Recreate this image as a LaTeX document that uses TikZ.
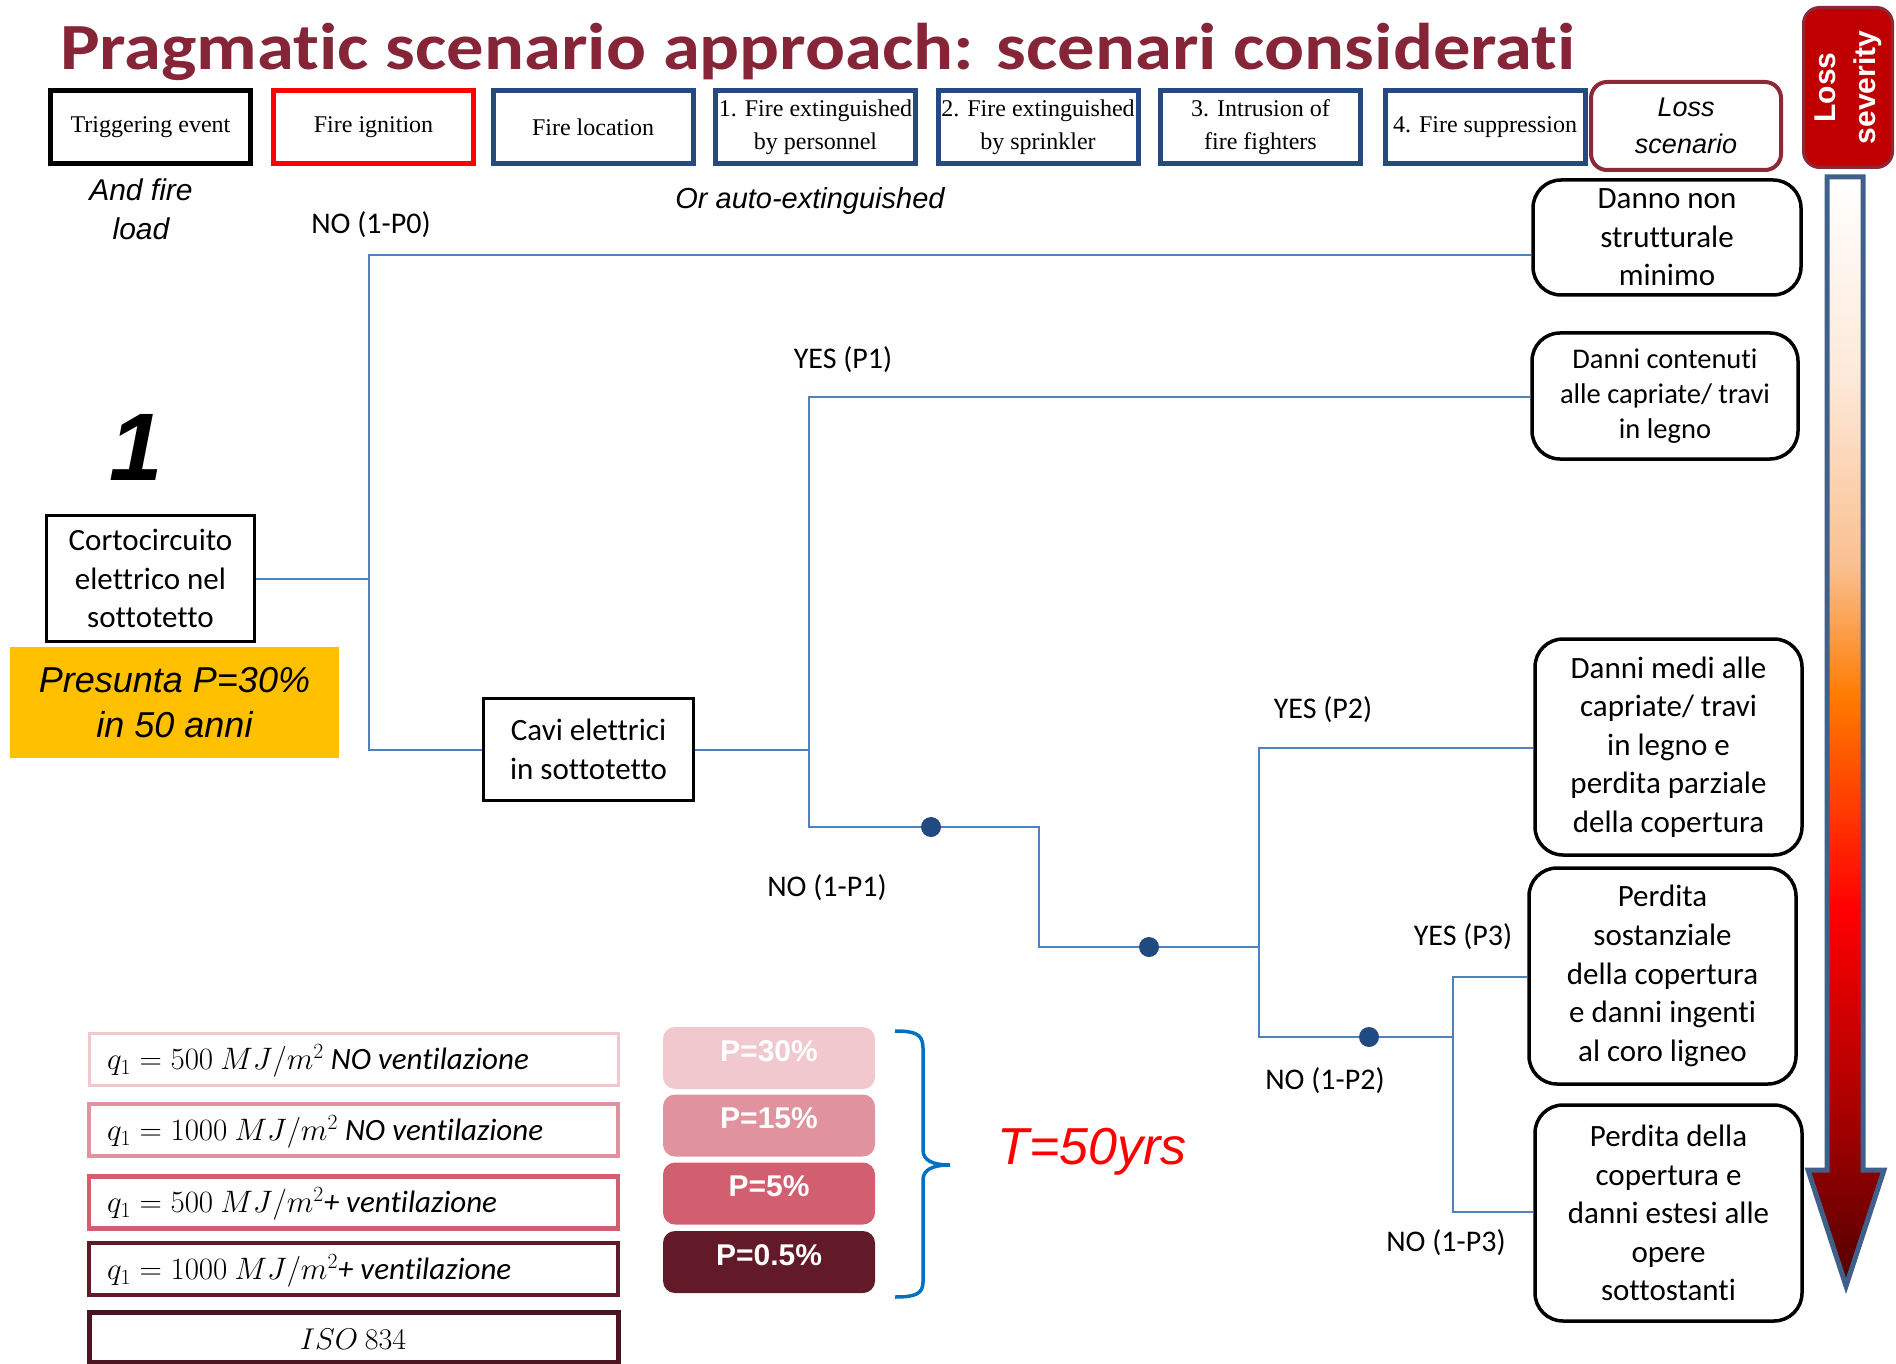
\RequirePackage{fix-cm}
\documentclass[tikz,border=0pt]{standalone}
\usepackage{fontspec}
\setmainfont{Carlito}[Ligatures={NoCommon,NoContextual}]
\newfontfamily\arialf{Liberation Sans}
\newfontfamily\tnrf{Liberation Serif}
\newfontfamily\titlef{Carlito}[Ligatures={NoCommon,NoContextual}]
\definecolor{titlered}{RGB}{134,36,56}
\definecolor{hdrblue}{RGB}{37,74,128}
\definecolor{lnblue}{RGB}{79,129,189}
\definecolor{dotblue}{RGB}{33,74,128}
\definecolor{lossred}{RGB}{192,0,0}
\definecolor{lossbrd}{RGB}{140,40,55}
\definecolor{arrbrd}{RGB}{64,96,140}
\definecolor{yel}{RGB}{255,192,0}
\definecolor{pk1}{RGB}{240,200,206}
\definecolor{pk2}{RGB}{224,147,158}
\definecolor{pk3}{RGB}{210,95,112}
\definecolor{pk4}{RGB}{98,26,40}
\definecolor{pk5}{RGB}{74,21,32}
\definecolor{bracebl}{RGB}{0,112,192}
\definecolor{peach}{RGB}{250,192,144}
\definecolor{peachl}{RGB}{253,233,217}
\definecolor{orng}{RGB}{255,122,0}
\definecolor{dred}{RGB}{160,0,0}
\definecolor{vdred}{RGB}{80,0,0}
\pgfdeclareverticalshading{sevshade}{100bp}{color(0bp)=(vdred); color(25bp)=(vdred); color(32bp)=(dred); color(42bp)=(red); color(51.5bp)=(orng); color(57.5bp)=(peach); color(66bp)=(peachl); color(75bp)=(white); color(100bp)=(white)}
\tikzset{
  hdr/.style={draw=hdrblue, line width=5pt, minimum width=200pt, minimum height=73pt, inner sep=0pt, align=center, font=\tnrf\fontsize{24}{33}\selectfont},
  outc/.style={draw=black, line width=3.5pt, rounded corners=28pt, inner sep=0pt, align=center, font=\fontsize{31}{38.6}\selectfont},
  sqbox/.style={draw=black, line width=2.5pt, inner sep=0pt, align=center, font=\fontsize{31}{38.5}\selectfont},
  conn/.style={draw=lnblue, line width=2pt},
  lbl/.style={font=\fontsize{30}{36}\selectfont, inner sep=0pt},
  jdot/.style={circle, fill=dotblue, minimum size=20pt, inner sep=0pt},
  legbox/.style={minimum width=529pt, minimum height=52pt, inner sep=0pt, line width=4.5pt},
  legtxt/.style={anchor=west, inner sep=0pt, font=\fontsize{31}{34}\selectfont},
  pbox/.style={minimum width=212pt, minimum height=62pt, rounded corners=12pt, inner sep=0pt, text=white, text height=22pt, text depth=16pt, font=\arialf\bfseries\fontsize{30}{34}\selectfont}
}
\begin{document}
\begin{tikzpicture}[x=1pt,y=-1pt]
\useasboundingbox (0,0) rectangle (1896,1364);
% title
\node[anchor=base west, inner sep=0pt, text=titlered, font=\titlef\bfseries\fontsize{66}{70}\selectfont] (title) at (60,70) {\scalebox{1.13}[1]{Pragmatic scenario approach: scenari considerati}};
% header row
\node[hdr, draw=black] (h0) at (150.5,127) {Triggering event};
\node[hdr, draw=red, line width=4.5pt] (h1) at (373.5,127) {Fire ignition};
\node[hdr] (h2) at (593,127) {Fire location};
\node[hdr] (h3) at (815.5,127) {1. Fire extinguished\\by personnel};
\node[hdr] (h4) at (1038,127) {2. Fire extinguished\\by sprinkler};
\node[hdr] (h5) at (1260.5,127) {3. Intrusion of\\fire fighters};
\node[hdr] (h6) at (1485,127) {4. Fire suppression};
\node[draw=lossbrd, line width=4pt, rounded corners=16pt, minimum width=190pt, minimum height=88pt, inner sep=0pt, align=center, font=\arialf\itshape\fontsize{27}{37}\selectfont] (ls) at (1686,126) {Loss\\scenario};
\node[draw=lossbrd, fill=lossred, line width=3pt, rounded corners=16pt, minimum width=89pt, minimum height=160pt, inner sep=0pt] (sev) at (1848,87.5) {};
\node[rotate=90, text=white, align=center, inner sep=0pt, font=\arialf\bfseries\fontsize{30}{40}\selectfont] (sevt) at (1848,87.5) {Loss\\severity};
% severity arrow
\path[shading=sevshade, draw=arrbrd, line width=5pt, line join=miter]
  (1827,177) -- (1863,177) -- (1863,1170) -- (1884,1170) -- (1846,1286) -- (1808,1170) -- (1827,1170) -- cycle;
% side texts
\node[align=center, inner sep=0pt, font=\arialf\itshape\fontsize{30}{39}\selectfont] (afl) at (141,209) {And fire\\load};
\node[inner sep=0pt, font=\arialf\itshape\fontsize{29}{34}\selectfont] (oae) at (810,201) {Or auto-extinguished};
\node[inner sep=0pt, font=\arialf\itshape\bfseries\fontsize{96}{100}\selectfont] (one) at (136,447) {1};
% tree nodes
\node[sqbox, minimum width=208pt, minimum height=126pt] (cc) at (150.5,578.5) {Cortocircuito\\elettrico nel\\sottotetto};
\node[fill=yel, minimum width=329pt, minimum height=111pt, inner sep=0pt, align=center, font=\arialf\itshape\fontsize{36}{45}\selectfont] (pres) at (174.5,702.5) {Presunta P=30\%\\in 50 anni};
\node[sqbox, minimum width=210pt, minimum height=102pt] (cavi) at (588.5,749.5) {Cavi elettrici\\in sottotetto};
% outcome boxes
\node[outc, minimum width=268pt, minimum height=115pt] (o1) at (1667,237.5) {Danno non\\strutturale\\minimo};
\node[outc, minimum width=266pt, minimum height=126pt, font=\fontsize{28.5}{35}\selectfont] (o2) at (1665,396) {Danni contenuti\\alle capriate/ travi\\in legno};
\node[outc, minimum width=267pt, minimum height=216pt] (o3) at (1668.5,747) {Danni medi alle\\capriate/ travi\\in legno e\\perdita parziale\\della copertura};
\node[outc, minimum width=267pt, minimum height=216pt] (o4) at (1662.5,976) {Perdita\\sostanziale\\della copertura\\e danni ingenti\\al coro ligneo};
\node[outc, minimum width=267pt, minimum height=216pt] (o5) at (1668.5,1213) {Perdita della\\copertura e\\danni estesi alle\\opere\\sottostanti};
% junction coordinates
\coordinate (a0) at (369,578.5);
\coordinate (a1) at (369,255);
\coordinate (a2) at (369,750);
\coordinate (b0) at (809,750);
\coordinate (b1) at (809,397);
\coordinate (b2) at (809,827);
\coordinate (c0) at (1039,827);
\coordinate (c1) at (1039,947);
\coordinate (d0) at (1259,947);
\coordinate (d1) at (1259,748);
\coordinate (d2) at (1259,1037);
\coordinate (e0) at (1453,1037);
\coordinate (e1) at (1453,977);
\coordinate (e2) at (1453,1212);
% connectors
\draw[conn] (cc.east |- a0) -- (a0);
\draw[conn] (o1.west |- a1) -- (a1) -- (a2) -- (cavi.west |- a2);
\draw[conn] (cavi.east |- b0) -- (b0);
\draw[conn] (o2.west |- b1) -- (b1) -- (b2) -- (c0) -- (c1) -- (d0);
\draw[conn] (o3.west |- d1) -- (d1) -- (d2) -- (e0);
\draw[conn] (o4.west |- e1) -- (e1) -- (e2) -- (o5.west |- e2);
\node[jdot] (p1) at (931,827) {};
\node[jdot] (p2) at (1149,947) {};
\node[jdot] (p3) at (1369,1037) {};
% branch labels
\node[lbl] (l0) at (371,225) {NO (1-P0)};
\node[lbl] (l1) at (843,360) {YES (P1)};
\node[lbl] (l2) at (827,888) {NO (1-P1)};
\node[lbl] (l3) at (1323,710) {YES (P2)};
\node[lbl] (l4) at (1325,1081) {NO (1-P2)};
\node[lbl] (l5) at (1463,937) {YES (P3)};
\node[lbl] (l6) at (1446,1243) {NO (1-P3)};
% legend boxes
\node[legbox, draw=pk1, line width=3pt] (q1) at (353.5,1059) {};
\node[legbox, draw=pk2] (q2) at (353.5,1130) {};
\node[legbox, draw=pk3] (q3) at (353.5,1202.5) {};
\node[legbox, draw=pk4] (q4) at (353.5,1269) {};
\node[legbox, draw=pk5, line width=5pt, minimum height=50pt] (q5) at (353.5,1337) {};
\node[legtxt] (t1) at (107,1061) {$q_1 = 500\ MJ/m^2$ \textit{NO ventilazione}};
\node[legtxt] (t2) at (107,1132) {$q_1 = 1000\ MJ/m^2$ \textit{NO ventilazione}};
\node[legtxt] (t3) at (107,1204) {$q_1 = 500\ MJ/m^2$\textit{+ ventilazione}};
\node[legtxt] (t4) at (107,1271) {$q_1 = 1000\ MJ/m^2$\textit{+ ventilazione}};
\node[inner sep=0pt, font=\fontsize{30}{34}\selectfont] (t5) at (353,1339) {$ISO\ 834$};
% probability boxes
\node[pbox, fill=pk1] (r1) at (769,1058) {P=30\%};
\node[pbox, fill=pk2] (r2) at (769,1125.5) {P=15\%};
\node[pbox, fill=pk3] (r3) at (769,1193.5) {P=5\%};
\node[pbox, fill=pk4] (r4) at (769,1262) {P=0.5\%};
% brace
\draw[draw=bracebl, line width=3.5pt] (895,1031) .. controls (915,1031) and (923,1034) .. (923,1048) -- (923,1150) .. controls (923,1160) and (932,1165) .. (950,1165) .. controls (932,1165) and (923,1170) .. (923,1180) -- (923,1282) .. controls (923,1294) and (915,1297) .. (895,1297);
\node[inner sep=0pt, text=red, font=\arialf\itshape\fontsize{52}{56}\selectfont] (T) at (1092,1152) {T=50yrs};
\end{tikzpicture}
\end{document}
